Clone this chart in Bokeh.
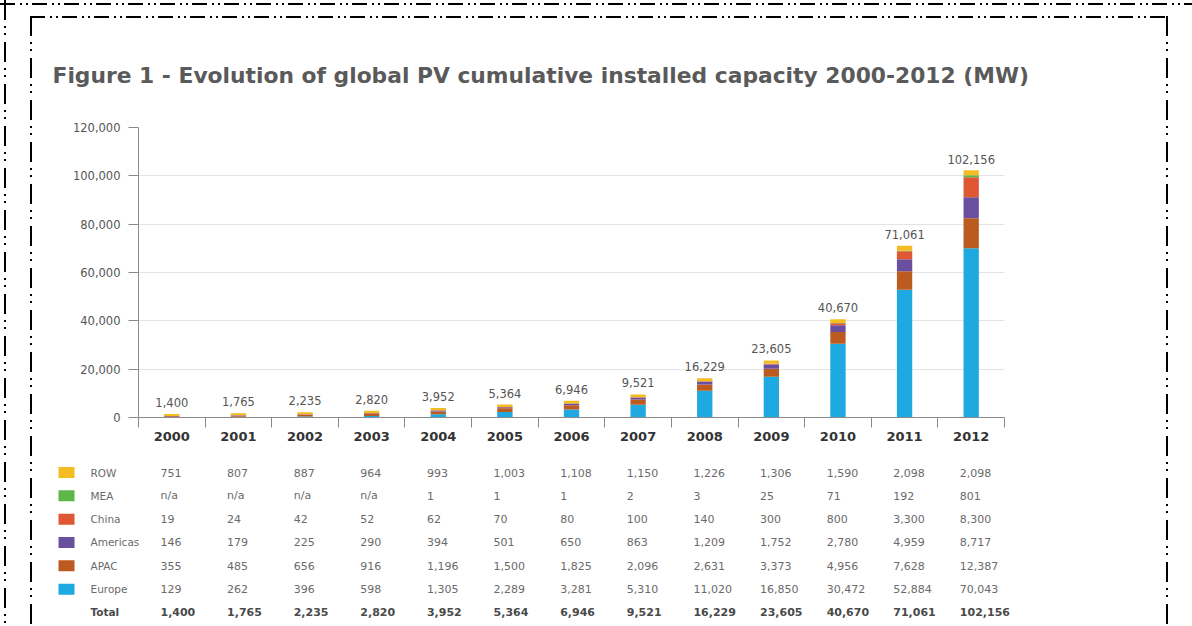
from bokeh.plotting import figure
from bokeh.models import ColumnDataSource, FixedTicker, NumeralTickFormatter, Range1d
from bokeh.layouts import column
from bokeh.embed import file_html
from bokeh.resources import INLINE
from bokeh.core.properties import value

# ---------------- data ----------------
years = [2000, 2001, 2002, 2003, 2004, 2005, 2006, 2007, 2008, 2009, 2010, 2011, 2012]
year_labels = ["2000", "2001", "2002", "2003", "2004", "2005", "2006",
               "2007", "2008", "2009", "2010", "2011", "2012"]
europe = [129, 262, 396, 598, 1305, 2289, 3281, 5310, 11020, 16850, 30472, 52884, 70043]
apac = [355, 485, 656, 916, 1196, 1500, 1825, 2096, 2631, 3373, 4956, 7628, 12387]
americas = [146, 179, 225, 290, 394, 501, 650, 863, 1209, 1752, 2780, 4959, 8717]
china = [19, 24, 42, 52, 62, 70, 80, 100, 140, 300, 800, 3300, 8300]
mea = [None, None, None, None, 1, 1, 1, 2, 3, 25, 71, 192, 801]   # None = "n/a"
row_other = [751, 807, 887, 964, 993, 1003, 1108, 1150, 1226, 1306, 1590, 2098, 2098]
totals = [1400, 1765, 2235, 2820, 3952, 5364, 6946, 9521, 16229, 23605, 40670, 71061, 102156]

series_names = ["Europe", "APAC", "Americas", "China", "MEA", "ROW"]        # bottom -> top
series_values = [europe, apac, americas, china, mea, row_other]
series_colors = ["#1ea9e1", "#bb5b1f", "#6b4f9f", "#e05733", "#5cb648", "#f3bd22"]
y_ticks = [0, 20000, 40000, 60000, 80000, 100000, 120000]
title_text = "Figure 1 - Evolution of global PV cumulative installed capacity 2000-2012 (MW)"

FONT = "DejaVu Sans"
W, H1, H2 = 1192, 450, 176
B_LEFT, B_RIGHT, B_TOP, B_BOTTOM = 138, 188, 127, 33

# ---------------- chart ----------------
x0, x1 = years[0] - 0.5, years[-1] + 0.5
src = ColumnDataSource(dict(
    year=years,
    total=totals,
    total_label=[f"{t:,}" for t in totals],
    **{n: [v if v is not None else 0 for v in vals] for n, vals in zip(series_names, series_values)}
))

p = figure(width=W, height=H1, x_range=Range1d(x0, x1), y_range=Range1d(0, 120000),
           output_backend="svg", toolbar_location=None,
           min_border_left=B_LEFT, min_border_right=B_RIGHT,
           min_border_top=B_TOP, min_border_bottom=B_BOTTOM,
           background_fill_color=None, border_fill_color=None, outline_line_color=None)
p.frame_align = False

p.vbar_stack(series_names, x="year", width=0.23, fill_color=series_colors,
             line_color=None, source=src)
p.text(x="year", y="total", text="total_label", source=src, text_align="center",
       text_baseline="bottom", y_offset=-7, text_font_size="11.5px", text_color="#555555",
       text_font=value(FONT))

p.title.text = title_text
p.title.text_font = FONT
p.title.text_font_size = "21.8px"
p.title.text_font_style = "bold"
p.title.text_color = "#5a5a5a"
p.title.offset = 52 - B_LEFT
p.title.standoff = 80

ya = p.yaxis[0]
ya.ticker = FixedTicker(ticks=y_ticks)
ya.formatter = NumeralTickFormatter(format="0,0")
ya.major_label_text_font = FONT
ya.major_label_text_font_size = "11.5px"
ya.major_label_text_color = "#555555"
ya.axis_line_color = "#8a8a8a"
ya.major_tick_line_color = "#8a8a8a"
ya.major_tick_out = 10
ya.major_tick_in = 0
ya.minor_tick_line_color = None
ya.major_label_standoff = 8

xa = p.xaxis[0]
xa.ticker = FixedTicker(ticks=years, minor_ticks=[y - 0.5 for y in years] + [years[-1] + 0.5])
xa.major_label_overrides = {y: l for y, l in zip(years, year_labels)}
xa.major_label_text_font = FONT
xa.major_label_text_font_size = "13px"
xa.major_label_text_font_style = "bold"
xa.major_label_text_color = "#333333"
xa.axis_line_color = "#8a8a8a"
xa.major_tick_in = 0
xa.major_tick_out = 0
xa.minor_tick_in = 0
xa.minor_tick_out = 10
xa.minor_tick_line_color = "#8a8a8a"
xa.major_label_standoff = 4

p.xgrid.visible = False
p.ygrid.ticker = FixedTicker(ticks=y_ticks)
p.ygrid.grid_line_color = "#e4e4e4"

# ---------------- data table below the chart ----------------
px_per_unit = (W - B_LEFT - B_RIGHT) / (x1 - x0)
tx0 = x0 - B_LEFT / px_per_unit
tx1 = x1 + B_RIGHT / px_per_unit
ROW_TOP_PX, ROW_STEP_PX = 22, 23.33
ty_top = -ROW_TOP_PX / ROW_STEP_PX
ty_bottom = (H2 - ROW_TOP_PX) / ROW_STEP_PX

q = figure(width=W, height=H2, x_range=Range1d(tx0, tx1), y_range=Range1d(ty_bottom, ty_top),
           output_backend="svg", toolbar_location=None, min_border=0,
           x_axis_location=None, y_axis_location=None,
           background_fill_color=None, border_fill_color=None, outline_line_color=None)
q.frame_align = False
q.grid.visible = False

table_names = list(reversed(series_names))          # ROW first ... Europe last
table_vals = list(reversed(series_values))
table_cols = list(reversed(series_colors))

def px_to_x(px):
    return x0 + (px - B_LEFT) / px_per_unit

COL_SHIFT = -0.17
cx, cy, ct = [], [], []
for i, vals in enumerate(table_vals):
    for yr, v in zip(years, vals):
        cx.append(yr + COL_SHIFT)
        cy.append(i)
        ct.append("n/a" if v is None else f"{v:,}")
q.text(x=cx, y=cy, text=ct, text_align="left", text_baseline="middle",
       text_font_size="11px", text_color="#6a6a6a", text_font=value(FONT))
q.text(x=[yr + COL_SHIFT for yr in years], y=[len(table_names)] * len(years),
       text=[f"{t:,}" for t in totals], text_align="left", text_baseline="middle",
       text_font_size="11px", text_font_style="bold", text_color="#4a4a4a",
       text_font=value(FONT))

q.rect(x=[px_to_x(66)] * len(table_names), y=list(range(len(table_names))),
       width=16, height=11, width_units="screen", height_units="screen",
       fill_color=table_cols, line_color=None)
q.text(x=[px_to_x(90)] * len(table_names), y=list(range(len(table_names))),
       text=table_names, text_align="left", text_baseline="middle",
       text_font_size="10.5px", text_color="#6a6a6a", text_font=value(FONT))
q.text(x=[px_to_x(90)], y=[len(table_names)], text=["Total"], text_align="left",
       text_baseline="middle", text_font_size="10.5px", text_font_style="bold",
       text_color="#4a4a4a", text_font=value(FONT))

# ---------------- dash-dot frame lines of the scanned page ----------------
hpat = ("repeating-linear-gradient(to right, #000 0px 15px, transparent 15px 20px, "
        "#000 20px 22px, transparent 22px 26px, #000 26px 28px, transparent 28px 32px)")
vpat = ("repeating-linear-gradient(to bottom, #000 0px 20px, transparent 20px 26px, "
        "#000 26px 28px, transparent 28px 33px, #000 33px 35px, transparent 35px 42px)")
frame_styles = {
    "background-image": ", ".join([hpat, hpat, vpat, vpat, vpat]),
    "background-position": "0px 3px, 30px 16px, 4px 0px, 30px 16px, 1166px 16px",
    "background-size": "1192px 2px, 1138px 2px, 2px 626px, 2px 610px, 2px 610px",
    "background-repeat": "no-repeat",
    "background-color": "#ffffff",
    "width": "1192px",
    "height": "626px",
    "overflow": "hidden",
}

layout = column(p, q, styles=frame_styles)
open("out.html", "w").write(file_html(layout, INLINE))
